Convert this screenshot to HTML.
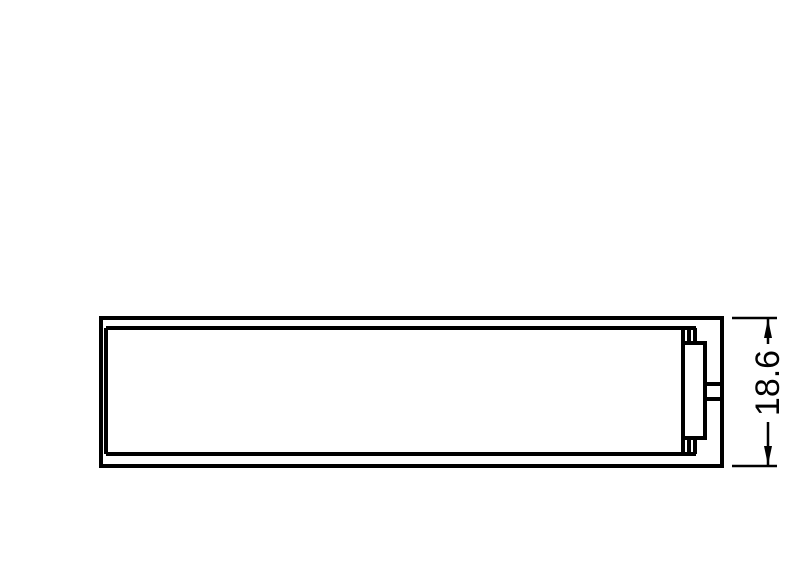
<!DOCTYPE html>
<html><head><style>html,body{margin:0;padding:0;background:#fff;}</style></head>
<body>
<svg width="800" height="576" xmlns="http://www.w3.org/2000/svg">
<g fill="none" stroke="#000" stroke-width="4">
<rect x="101" y="318" width="621" height="148"/>
<line x1="106" y1="328" x2="106" y2="454"/>
<line x1="106" y1="328" x2="696" y2="328"/>
<line x1="106" y1="454" x2="696" y2="454"/>
<line x1="683" y1="328" x2="683" y2="454"/>
<line x1="689" y1="328" x2="689" y2="343"/>
<line x1="695" y1="328" x2="695" y2="343"/>
<line x1="689" y1="438" x2="689" y2="454"/>
<line x1="695" y1="438" x2="695" y2="454"/>
<rect x="683" y="343" width="22" height="95"/>
<line x1="705" y1="384" x2="722" y2="384"/>
<line x1="705" y1="399" x2="722" y2="399"/>
</g>
<g stroke="#000" stroke-width="2.5">
<line x1="732" y1="318" x2="777" y2="318"/>
<line x1="732" y1="466" x2="777" y2="466"/>
<line x1="768" y1="319" x2="768" y2="344"/>
<line x1="768" y1="422" x2="768" y2="465"/>
</g>
<polygon points="768,319 764,338 772,338" fill="#000"/>
<polygon points="768,465 764,446 772,446" fill="#000"/>
<text x="768" y="383" transform="rotate(-90 768 383)" text-anchor="middle" dominant-baseline="central" font-family="Liberation Sans, sans-serif" font-size="34">18.6</text>
</svg>
</body></html>
